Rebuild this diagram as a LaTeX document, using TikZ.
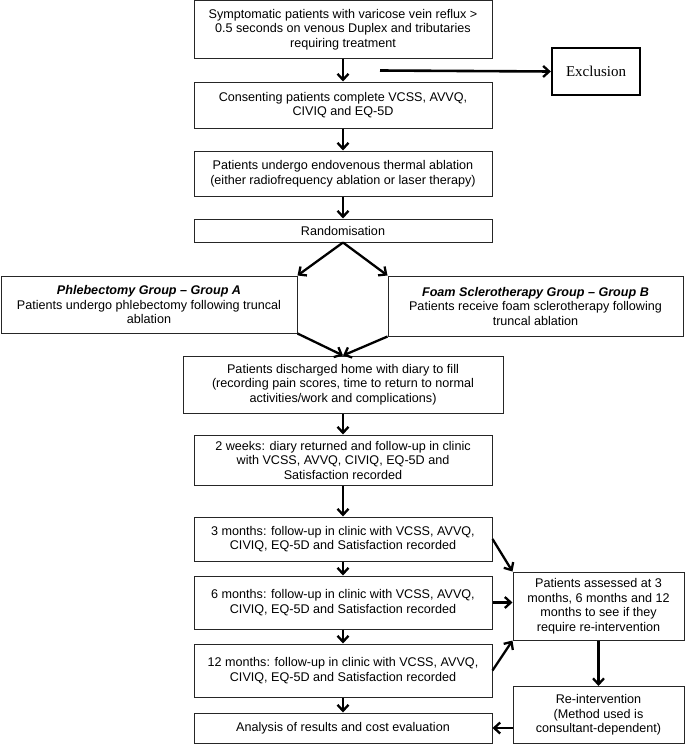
\documentclass[tikz,border=0pt]{standalone}
\usepackage{fontspec}
\setmainfont{Liberation Sans}
\newfontfamily\exfont{Liberation Serif}
\usetikzlibrary{arrows.meta}
\begin{document}
\begin{tikzpicture}[x=1pt,y=-1pt,
  box/.style={draw=black!85,line width=1pt,align=center,inner sep=0pt,
    font=\fontsize{12.6}{14.5}\selectfont},
  exbox/.style={draw,line width=2.3pt,align=center,inner sep=0pt,
    font=\exfont\fontsize{15}{17}\selectfont},
  arr/.style={line width=2.3pt,-{Straight Barb[length=6pt,width=11pt,line width=2.3pt]}}]
\useasboundingbox (0,0) rectangle (685,744);
\node[box,minimum width=298pt,minimum height=58pt] (b1) at (343,29.5)
  {Symptomatic patients with varicose vein reflux >\\0.5 seconds on venous Duplex and tributaries\\requiring treatment};
\node[box,minimum width=298pt,minimum height=46pt] (b2) at (343,105)
  {Consenting patients complete VCSS, AVVQ,\\CIVIQ and EQ-5D};
\node[box,minimum width=298pt,minimum height=45pt] (b3) at (343,173.5)
  {Patients undergo endovenous thermal ablation\\(either radiofrequency ablation or laser therapy)};
\node[box,minimum width=298pt,minimum height=23pt] (rnd) at (343,230.5)
  {Randomisation};
\node[box,minimum width=296pt,minimum height=57pt] (ga) at (149,304.5)
  {{\bfseries\itshape Phlebectomy Group -- Group A}\\Patients undergo phlebectomy following truncal\\ablation};
\node[box,minimum width=295pt,minimum height=60pt] (gb) at (535.5,306)
  {{\bfseries\itshape Foam Sclerotherapy Group -- Group B}\\Patients receive foam sclerotherapy following\\truncal ablation};
\node[box,minimum width=320pt,minimum height=57pt] (dis) at (343,384.5)
  {Patients discharged home with diary to fill\\(recording pain scores, time to return to normal\\activities/work and complications)};
\node[box,minimum width=298pt,minimum height=50pt] (w2) at (343,460)
  {2 weeks: diary returned and follow-up in clinic\\with VCSS, AVVQ, CIVIQ, EQ-5D and\\Satisfaction recorded};
\node[box,minimum width=298pt,minimum height=44pt] (m3) at (343,539)
  {3 months: follow-up in clinic with VCSS, AVVQ,\\CIVIQ, EQ-5D and Satisfaction recorded};
\node[box,minimum width=298pt,minimum height=53pt] (m6) at (343,602.5)
  {6 months: follow-up in clinic with VCSS, AVVQ,\\CIVIQ, EQ-5D and Satisfaction recorded};
\node[box,minimum width=298pt,minimum height=53pt] (m12) at (343,670.5)
  {12 months: follow-up in clinic with VCSS, AVVQ,\\CIVIQ, EQ-5D and Satisfaction recorded};
\node[box,minimum width=298pt,minimum height=30pt] (an) at (343,728)
  {Analysis of results and cost evaluation};
\node[box,minimum width=171pt,minimum height=68pt] (pa) at (598.5,606)
  {Patients assessed at 3\\months, 6 months and 12\\months to see if they\\require re-intervention};
\node[box,minimum width=171pt,minimum height=57pt] (ri) at (598.5,715)
  {Re-intervention\\(Method used is\\consultant-dependent)};
\node[exbox,minimum width=88pt,minimum height=47pt] (ex) at (596,71.5) {Exclusion};
\coordinate (exs) at (380,70.5);
\draw[arr] (b1) -- (b2);
\draw[arr] (b2) -- (b3);
\draw[arr] (b3) -- (rnd);
\draw[arr,line width=2.6pt] (exs) -- (ex.west);
\draw[arr] (rnd.south) -- (ga.north east);
\draw[arr] (rnd.south) -- (gb.north west);
\draw[arr] (ga.south east) -- (dis.north);
\draw[arr] (gb.south west) -- (dis.north);
\draw[arr] (dis) -- (w2);
\draw[arr] (w2) -- (m3);
\draw[arr] (m3) -- (m6);
\draw[arr] (m6) -- (m12);
\draw[arr] (m12) -- (an);
\draw[arr] (m3.east) -- (pa.north west);
\draw[arr] (m6.east) -- (m6.east -| pa.west);
\draw[arr] (m12.east) -- (pa.south west);
\draw[arr] (pa) -- (ri);
\draw[arr] (ri.west |- an.center) -- (an.east);
\end{tikzpicture}
\end{document}
